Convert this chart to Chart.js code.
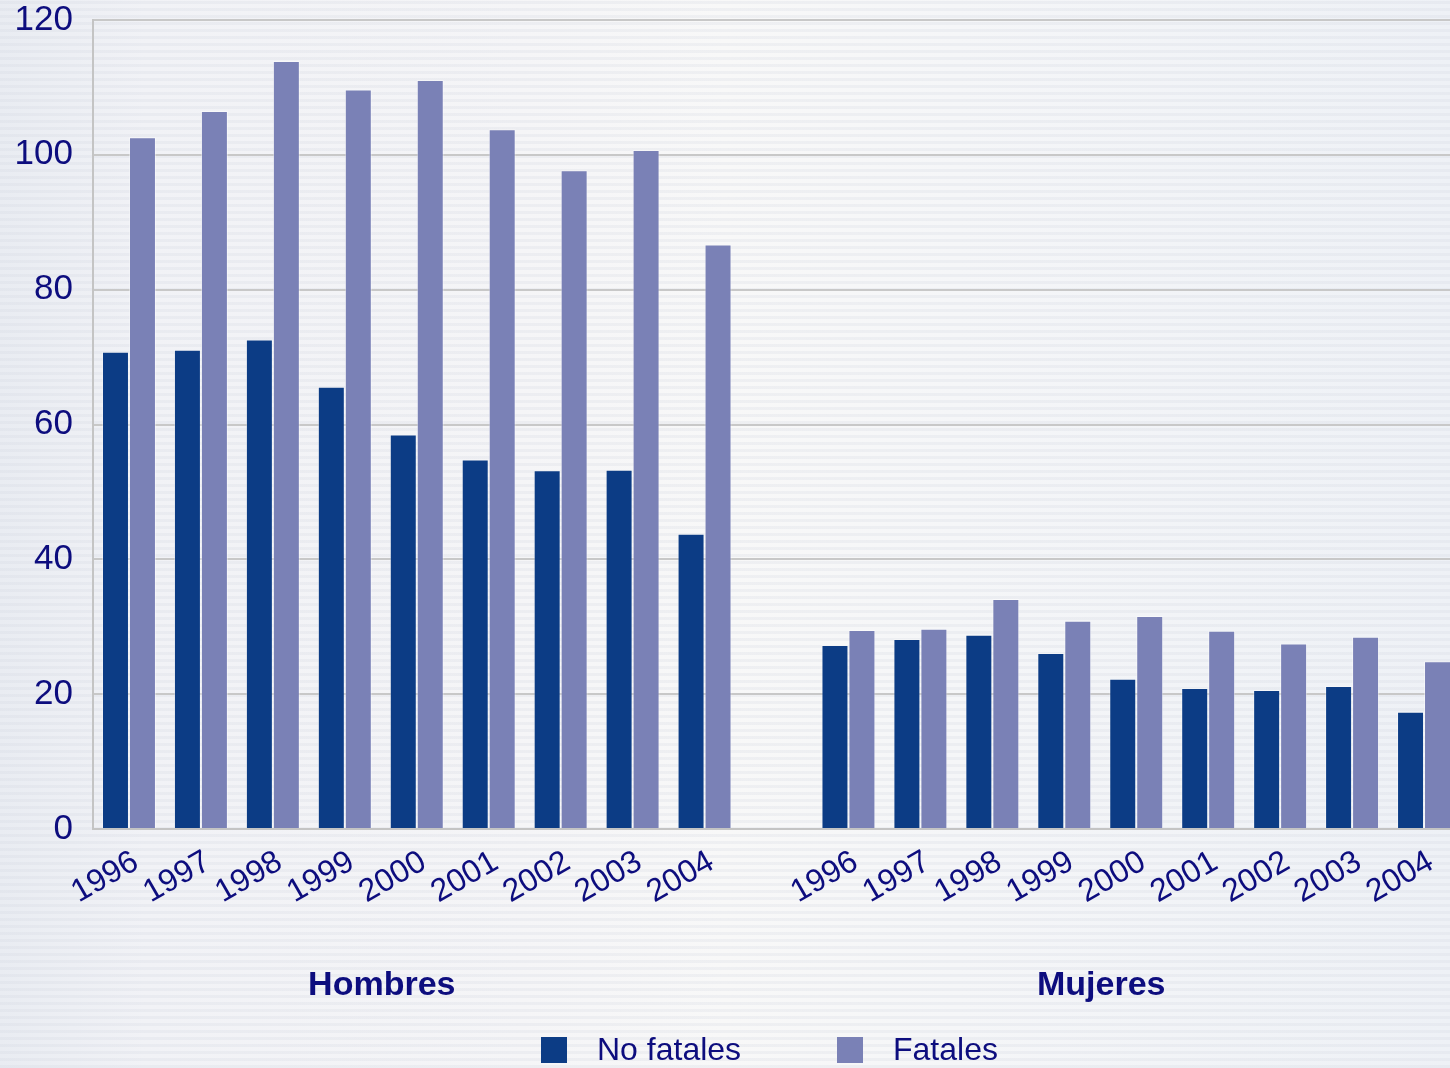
<!DOCTYPE html>
<html lang="es">
<head>
<meta charset="UTF-8">
<title>Hombres y Mujeres</title>
<style>
  html, body { margin: 0; padding: 0; overflow: hidden; }
  body {
    width: 1450px; height: 1068px;
    background:
      repeating-linear-gradient(0deg, rgba(210,214,224,0.25) 0 3px, rgba(255,255,255,0) 3px 7px),
      linear-gradient(90deg, #e9ecf2 0%, #f1f2f6 10%, #f5f5f7 36%, #f8f8f8 50%, #f5f6f8 66%, #eef1f6 100%);
  }
  canvas { display: block; }
</style>
</head>
<body>
<canvas id="chart" width="1460" height="1068"></canvas>

<script src="https://cdn.jsdelivr.net/npm/chart.js@4"></script>
<script>
  // data
  const years = ['1996', '1997', '1998', '1999', '2000', '2001', '2002', '2003', '2004']
  const hombresNoFatales = [70.8, 71.1, 72.6, 65.6, 58.5, 54.8, 53.2, 53.3, 43.8]
  const hombresFatales = [102.6, 106.5, 113.9, 109.7, 111.1, 103.8, 97.7, 100.7, 86.7]
  const mujeresNoFatales = [27.3, 28.2, 28.8, 26.1, 22.3, 20.9, 20.6, 21.2, 17.4]
  const mujeresFatales = [29.5, 29.7, 34.1, 30.9, 31.6, 29.4, 27.5, 28.5, 24.9]
  const groupNames = ['Hombres', 'Mujeres']
  const seriesNames = ['No fatales', 'Fatales']

  const navy = '#0c3c85'
  const lilac = '#7a81b6'
  const textColor = '#0d0d7e'
  const font = '"Liberation Sans", Arial, sans-serif'

  // one empty category between the two groups
  const labels = [...years, '', ...years]
  const noFatales = [...hombresNoFatales, null, ...mujeresNoFatales]
  const fatales = [...hombresFatales, null, ...mujeresFatales]
  const groupRanges = [[0, years.length - 1], [years.length + 1, 2 * years.length]]

  const extras = {
    id: 'extras',
    afterDraw(chart) {
      const ctx = chart.ctx
      const x = chart.scales.x
      ctx.save()
      ctx.fillStyle = textColor
      ctx.textBaseline = 'middle'
      ctx.textAlign = 'center'
      ctx.font = 'bold 34px ' + font
      groupNames.forEach((name, i) => {
        const [a, b] = groupRanges[i]
        const cx = (x.getPixelForValue(a) + x.getPixelForValue(b)) / 2 - 35
        ctx.fillText(name, cx, 986)
      })
      // legend
      ctx.textAlign = 'left'
      ctx.font = '32px ' + font
      const items = [[seriesNames[0], navy, 541], [seriesNames[1], lilac, 837]]
      items.forEach(([txt, col, lx]) => {
        ctx.fillStyle = col
        ctx.fillRect(lx, 1037, 26, 26)
        ctx.fillStyle = textColor
        ctx.fillText(txt, lx + 56, 1051)
      })
      ctx.restore()
    }
  }

  new Chart(document.getElementById('chart'), {
    type: 'bar',
    data: {
      labels: labels,
      datasets: [
        { label: seriesNames[0], data: noFatales, backgroundColor: navy, borderColor: 'rgba(255,255,255,0.35)', borderWidth: 1 },
        { label: seriesNames[1], data: fatales, backgroundColor: lilac, borderColor: 'rgba(255,255,255,0.45)', borderWidth: 1 }
      ]
    },
    options: {
      responsive: false,
      animation: false,
      layout: { padding: 0 },
      datasets: { bar: { categoryPercentage: 0.75, barPercentage: 1.0 } },
      plugins: { legend: { display: false }, tooltip: { enabled: false } },
      scales: {
        x: {
          grid: { display: false },
          border: { color: '#c4c4c4', width: 2 },
          ticks: {
            autoSkip: false, minRotation: 30, maxRotation: 30, padding: 6, labelOffset: 7,
            color: textColor, font: { family: font, size: 32 }
          },
          afterFit(s) { s.height = 239 }
        },
        y: {
          min: 0, max: 120,
          grid: { color: '#c8c8c8', lineWidth: 2, drawTicks: false },
          border: { color: '#c4c4c4', width: 2 },
          ticks: { stepSize: 20, padding: 20, color: textColor, font: { family: font, size: 35 } },
          afterFit(s) { s.width = 93; s.paddingTop = 20; s.paddingBottom = 20 }
        }
      }
    },
    plugins: [extras]
  })
</script>
</body>
</html>
